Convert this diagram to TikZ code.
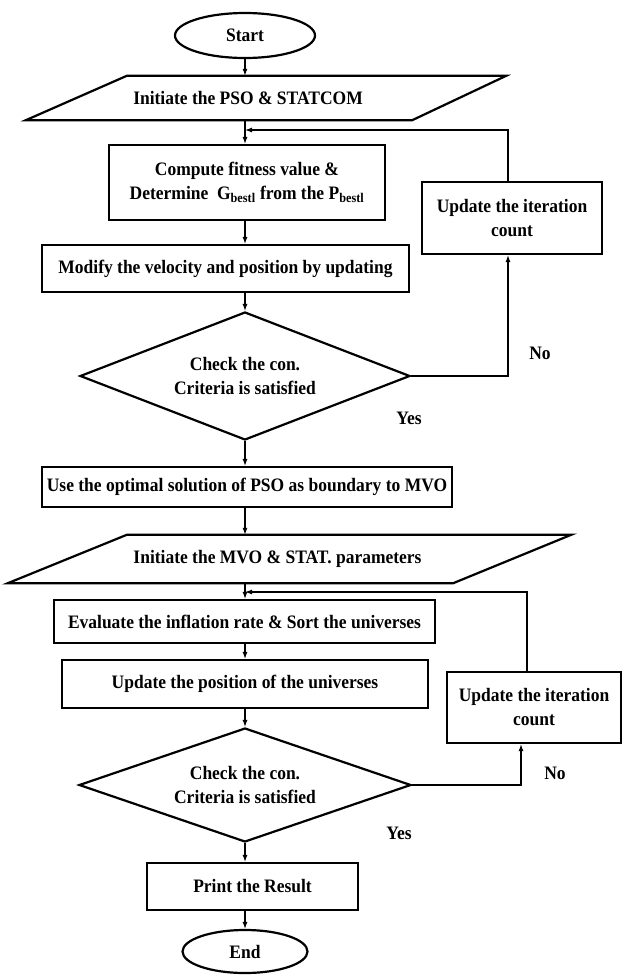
\documentclass[tikz,border=0pt]{standalone}
\usepackage{fontspec}
\setmainfont{Liberation Serif}[FakeStretch=0.92]
\usetikzlibrary{shapes.geometric,arrows.meta}
\begin{document}
\begin{tikzpicture}
[x=1pt,y=-1pt,
  font=\bfseries\fontsize{19}{24}\selectfont,
  procbox/.style={shape=rectangle,draw,line width=2.2pt,align=center,inner sep=0pt},%
  termbox/.style={shape=ellipse,draw,line width=2.2pt,inner sep=0pt},%
  iobox/.style={shape=rectangle,inner sep=0pt},%
  ioedge/.style={line width=2.2pt,line join=miter},%
  decbox/.style={shape=diamond,draw,line width=2.2pt,align=center,inner sep=0pt},%
  linedecorate/.style={-{Latex[length=7pt,width=5pt]},line width=1.1pt}]
\useasboundingbox (0,0) rectangle (623,975);
\coordinate (axis) at (245,0);
%% terminals and input boxes
\node (start) at (245,35.5) [termbox,minimum width=140,minimum height=45] {Start};
\node (init1) at (266,98) [iobox,minimum width=480,minimum height=44]
  {\hspace*{-36pt}Initiate the PSO \& STATCOM};
\draw[ioedge] (init1.south west) -- ([xshift=101pt]init1.north west)
  -- (init1.north east) -- ([xshift=-94pt]init1.south east) -- cycle;
\node (init2) at (289.5,559) [iobox,minimum width=563,minimum height=48]
  {\hspace*{-24pt}Initiate the MVO \& STAT. parameters};
\draw[ioedge] (init2.south west) -- ([xshift=119pt]init2.north west)
  -- (init2.north east) -- ([xshift=-118pt]init2.south east) -- cycle;
\node (endn) at (245,951.5) [termbox,minimum width=125,minimum height=43] {End};
%% process boxes
\node (comp) at (247,182.5) [procbox,minimum width=276,minimum height=75]
  {Compute fitness value \&\\Determine \ G\textsubscript{bestl} from the P\textsubscript{bestl}};
\node (modif) at (225.5,268.5) [procbox,minimum width=367,minimum height=47]
  {Modify the velocity and position by updating};
\node (upd1) at (512,218) [procbox,minimum width=180,minimum height=72]
  {Update the iteration\\count};
\node (use) at (247,487) [procbox,minimum width=410,minimum height=40]
  {Use the optimal solution of PSO as boundary to MVO};
\node (evalu) at (244.5,621.5) [procbox,minimum width=381,minimum height=43]
  {Evaluate the inflation rate \& Sort the universes};
\node (updpos) at (245,684) [procbox,minimum width=366,minimum height=48]
  {Update the position of the universes};
\node (upd2) at (534,707.5) [procbox,minimum width=174,minimum height=71]
  {Update the iteration\\count};
\node (print) at (252.5,886.5) [procbox,minimum width=211,minimum height=47]
  {Print the Result};
%% decisions
\node (check1) at (245,376) [decbox,minimum width=330,minimum height=128,aspect=2.6]
  {Check the con.\\Criteria is satisfied};
\node (check2) at (245,785) [decbox,minimum width=332,minimum height=114,aspect=2.9]
  {Check the con.\\Criteria is satisfied};
%% branch labels
\node (no1) at (540,353) {No};
\node (yes1) at (409,418) {Yes};
\node (no2) at (555,773) {No};
\node (yes2) at (399,833) {Yes};
%% main flow
\path
\foreach \startnode/\endnode in {start/init1, init1/comp, comp/modif,
  modif/check1, check1/use, use/init2, init2/evalu, evalu/updpos,
  updpos/check2, check2/print, print/endn}
{
  (\startnode.south -| axis) edge[linedecorate] (\endnode.north -| axis)
};
%% loops back
\coordinate (join1) at (245,130);
\coordinate (join2) at (245,592);
\draw[linedecorate] (check1.east) -| ([xshift=-4pt]upd1.south);
\draw[linedecorate] ([xshift=-4pt]upd1.north) |- (join1);
\draw[linedecorate] (check2.east) -| ([xshift=-13pt]upd2.south);
\draw[linedecorate] ([xshift=-7pt]upd2.north) |- (join2);
\end{tikzpicture}
\end{document}
